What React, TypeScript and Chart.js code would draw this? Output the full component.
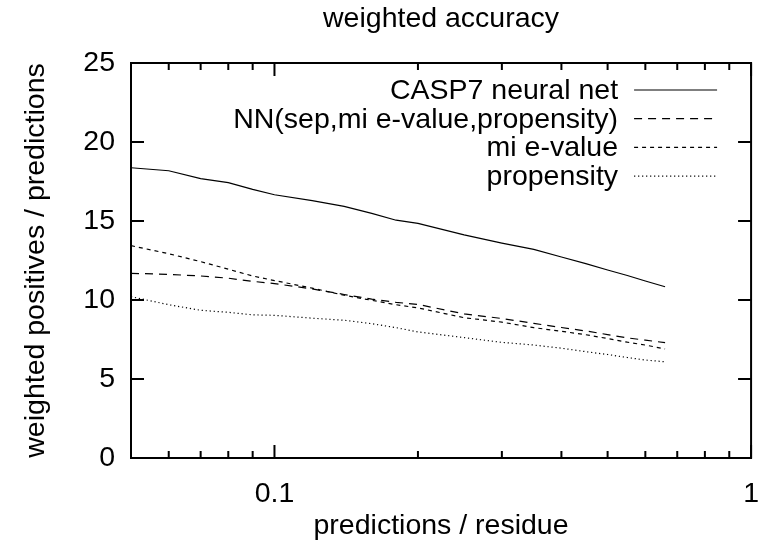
import React, { useEffect, useRef } from 'react';
import { Chart, registerables } from 'chart.js';

Chart.register(...registerables);

// ---- data ----
const xValues = [0.05, 0.06, 0.07, 0.08, 0.09, 0.1, 0.12, 0.14, 0.16, 0.18, 0.2, 0.25, 0.3, 0.35, 0.4, 0.45, 0.5, 0.55, 0.6, 0.66];
const casp7 = [18.37, 18.18, 17.68, 17.43, 17.0, 16.66, 16.29, 15.93, 15.48, 15.05, 14.85, 14.12, 13.6, 13.2, 12.72, 12.3, 11.9, 11.55, 11.2, 10.84];
const nnSep = [11.69, 11.62, 11.52, 11.38, 11.18, 11.04, 10.7, 10.35, 10.05, 9.85, 9.72, 9.12, 8.83, 8.52, 8.26, 8.04, 7.81, 7.6, 7.46, 7.3];
const miEvalue = [13.44, 12.93, 12.43, 11.95, 11.52, 11.23, 10.75, 10.3, 9.98, 9.7, 9.5, 8.88, 8.6, 8.25, 8.02, 7.8, 7.56, 7.33, 7.15, 6.9];
const propensity = [10.21, 9.7, 9.35, 9.22, 9.06, 9.03, 8.85, 8.72, 8.5, 8.25, 7.98, 7.62, 7.32, 7.15, 6.95, 6.73, 6.55, 6.36, 6.2, 6.09];

const seriesLabels = ['CASP7 neural net', 'NN(sep,mi e-value,propensity)', 'mi e-value', 'propensity'];

const yTickValues = [0, 5, 10, 15, 20, 25];
const xMajorTicks = [0.1, 1];
const xMinorTicks = [0.05, 0.06, 0.07, 0.08, 0.09, 0.2, 0.3, 0.4, 0.5, 0.6, 0.7, 0.8, 0.9];

const chartTitle = 'weighted accuracy';
const xTitle = 'predictions / residue';
const yTitle = 'weighted positives / predictions';

const FONT = "'Liberation Sans', Arial, Helvetica, sans-serif";
const FS = 28.5;

const frameTicksLegend = {
  id: 'frameTicksLegend',
  afterDatasetsDraw(chart: any) {
    const { ctx, chartArea: a, scales } = chart;
    const xs = scales.x;
    const ys = scales.y;
    ctx.save();
    ctx.strokeStyle = '#000';
    ctx.lineWidth = 2;
    ctx.setLineDash([]);
    ctx.strokeRect(a.left, a.top, a.right - a.left, a.bottom - a.top);
    ctx.beginPath();
    for (const v of yTickValues) {
      const py = ys.getPixelForValue(v);
      ctx.moveTo(a.left, py);
      ctx.lineTo(a.left + 13, py);
      ctx.moveTo(a.right, py);
      ctx.lineTo(a.right - 13, py);
    }
    for (const v of xMajorTicks) {
      const px = xs.getPixelForValue(v);
      ctx.moveTo(px, a.bottom);
      ctx.lineTo(px, a.bottom - 13);
      ctx.moveTo(px, a.top);
      ctx.lineTo(px, a.top + 13);
    }
    for (const v of xMinorTicks) {
      const px = xs.getPixelForValue(v);
      ctx.moveTo(px, a.bottom);
      ctx.lineTo(px, a.bottom - 7);
      ctx.moveTo(px, a.top);
      ctx.lineTo(px, a.top + 7);
    }
    ctx.stroke();

    // legend (inside, top right)
    ctx.font = `${FS}px ${FONT}`;
    ctx.fillStyle = '#000';
    ctx.textAlign = 'right';
    ctx.textBaseline = 'middle';
    chart.data.datasets.forEach((ds: any, i: number) => {
      const yy = a.top + 27 + i * 28.7;
      ctx.fillText(ds.label, a.right - 133, yy + 1);
      ctx.beginPath();
      ctx.lineWidth = ds.borderWidth;
      ctx.strokeStyle = ds.borderColor;
      ctx.setLineDash(ds.borderDash || []);
      ctx.moveTo(a.right - 117, yy);
      ctx.lineTo(a.right - 34, yy);
      ctx.stroke();
    });
    ctx.restore();
  },
};

export default function App() {
  const ref = useRef<HTMLCanvasElement | null>(null);

  useEffect(() => {
    if (!ref.current) return;
    Chart.defaults.font.family = FONT;
    Chart.defaults.font.size = FS;
    Chart.defaults.color = '#000';

    const mk = (label: string, data: number[], dash: number[]) => ({
      label,
      data: xValues.map((x, i) => ({ x, y: data[i] })),
      borderColor: '#000',
      borderWidth: 1.2,
      borderDash: dash,
      pointRadius: 0,
      tension: 0,
      fill: false,
    });

    const chart = new Chart(ref.current, {
      type: 'line',
      data: {
        datasets: [
          mk(seriesLabels[0], casp7, []),
          mk(seriesLabels[1], nnSep, [8, 6]),
          mk(seriesLabels[2], miEvalue, [4, 4]),
          mk(seriesLabels[3], propensity, [1.2, 2.8]),
        ],
      },
      options: {
        animation: false,
        responsive: false,
        maintainAspectRatio: false,
        layout: { padding: { left: 0, right: 13, top: 0, bottom: 0 } },
        plugins: {
          legend: { display: false },
          tooltip: { enabled: false },
          title: {
            display: true,
            text: chartTitle,
            fullSize: false,
            color: '#000',
            font: { size: FS, weight: 'normal', family: FONT },
            padding: { top: 2, bottom: 26.8 },
          },
        },
        scales: {
          x: {
            type: 'logarithmic',
            min: 0.05,
            max: 1,
            afterBuildTicks: (s: any) => {
              s.ticks = xMajorTicks.map((v) => ({ value: v }));
            },
            afterFit: (s: any) => {
              s.height = 89;
            },
            grid: { display: false, drawTicks: false },
            border: { display: false },
            ticks: {
              autoSkip: false,
              maxRotation: 0,
              padding: 19,
              color: '#000',
              font: { size: FS, family: FONT },
              callback: (v: any) => String(v),
            },
            title: {
              display: true,
              text: xTitle,
              color: '#000',
              font: { size: FS, family: FONT },
              padding: { top: 0, bottom: 4 },
            },
          },
          y: {
            type: 'linear',
            min: 0,
            max: 25,
            afterBuildTicks: (s: any) => {
              s.ticks = yTickValues.map((v) => ({ value: v }));
            },
            afterFit: (s: any) => {
              s.width = 131;
            },
            grid: { display: false, drawTicks: false },
            border: { display: false },
            ticks: {
              padding: 16,
              color: '#000',
              font: { size: FS, family: FONT },
              callback: (v: any) => String(v),
            },
            title: {
              display: true,
              text: yTitle,
              color: '#000',
              font: { size: FS, family: FONT },
              padding: { top: 19, bottom: 0 },
            },
          },
        },
      },
      plugins: [frameTicksLegend],
    } as any);

    return () => chart.destroy();
  }, []);

  return (
    <div style={{ position: 'fixed', left: 0, top: 0, width: 778, height: 547, background: '#fff' }}>
      <canvas ref={ref} width={778} height={547} style={{ width: '778px', height: '547px' }} />
    </div>
  );
}
